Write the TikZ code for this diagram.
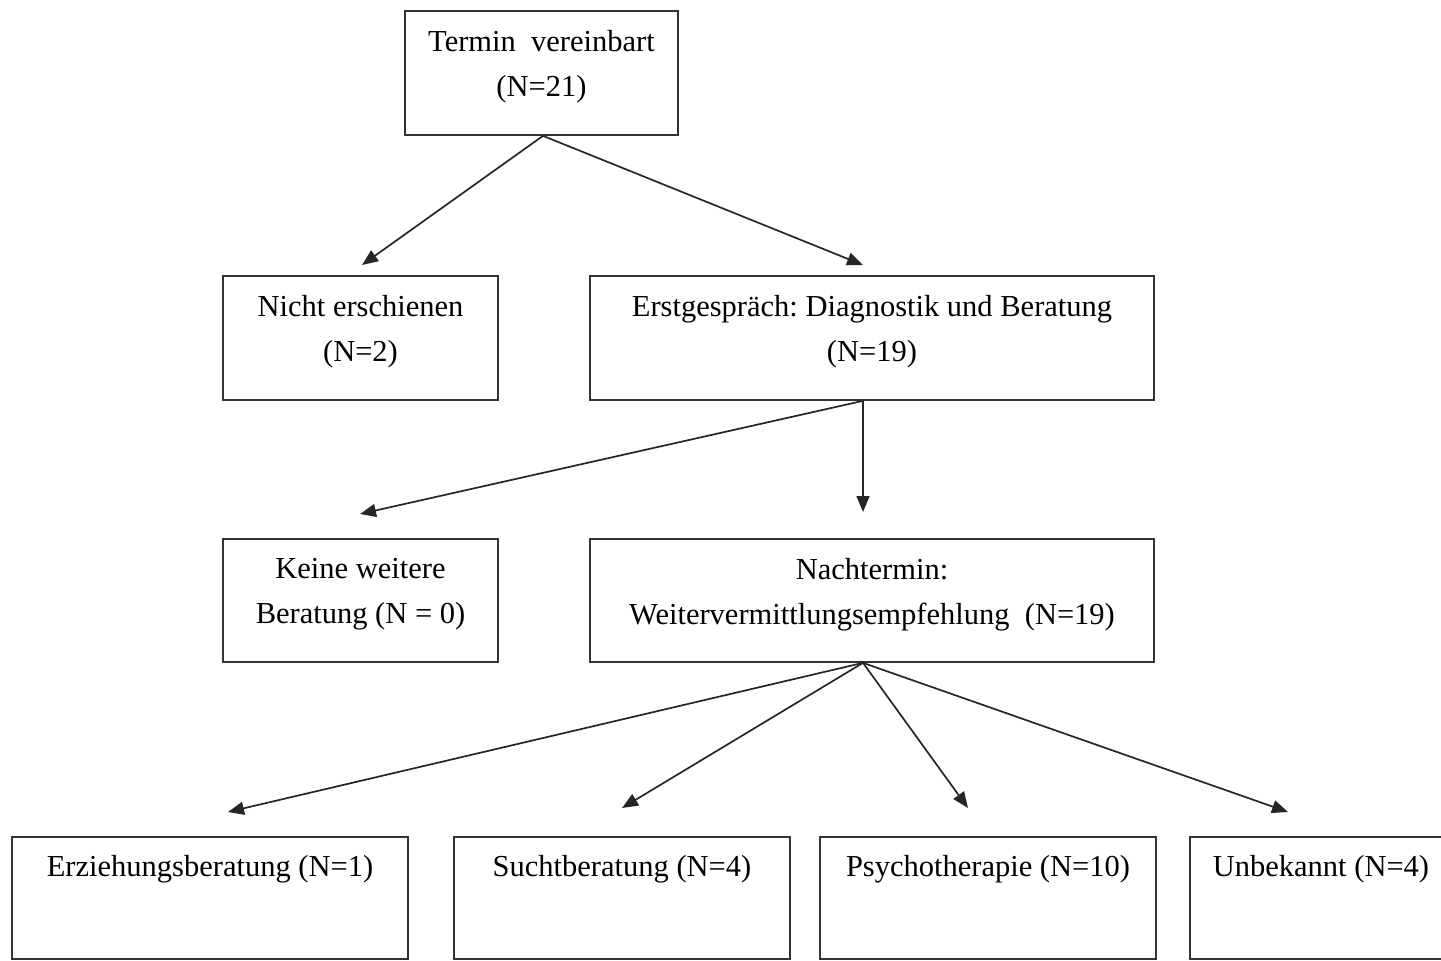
\documentclass[tikz,border=0pt]{standalone}
\usepackage{fontspec}
\setmainfont{Liberation Serif}
\usetikzlibrary{arrows.meta,positioning}
\frenchspacing
\begin{document}
\begin{tikzpicture}[x=1pt,y=-1pt,
  box/.style={draw=black!80, line width=1.7pt, inner sep=0pt, minimum height=124pt},
  boxtext/.style={align=center, inner sep=0pt, font=\fontsize{30.5}{45}\selectfont},
  flow/.style={-{Triangle[length=16pt,width=13pt]}, line width=1.7pt, black!85}]
  \useasboundingbox (0,0) rectangle (1441,961);

  % Boxes
  \node[box, minimum width=273pt] (termin) at (541.5,73) {};
  \node[box, minimum width=275pt] (nicht) at (360.5,338) {};
  \node[box, minimum width=564pt] (erst) at (872,338) {};
  \node[box, minimum width=275pt, minimum height=123pt] (keine) at (360.5,600.5) {};
  \node[box, minimum width=564pt, minimum height=123pt] (nach) at (872,600.5) {};
  \node[box, minimum width=396pt, minimum height=122pt] (erz) at (210,898) {};
  \node[box, minimum width=336pt, minimum height=122pt] (sucht) at (622,898) {};
  \node[box, minimum width=336pt, minimum height=122pt] (psych) at (988,898) {};
  \node[box, minimum width=280pt, minimum height=122pt] (unbek) at (1330,898) {};

  % Texts
  \node[boxtext, below=20pt of termin.north] {Termin\ \ vereinbart\\(N=21)};
  \node[boxtext, below=20pt of nicht.north] {Nicht erschienen\\(N=2)};
  \node[boxtext, below=20pt of erst.north] {Erstgespräch: Diagnostik und Beratung\\(N=19)};
  \node[boxtext, below=20pt of keine.north] {Keine weitere\\Beratung (N = 0)};
  \node[boxtext, below=20pt of nach.north] {Nachtermin:\\Weitervermittlungsempfehlung\ \ (N=19)};
  \node[boxtext, below=19pt of erz.north] {Erziehungsberatung (N=1)};
  \node[boxtext, below=19pt of sucht.north] {Suchtberatung (N=4)};
  \node[boxtext, below=19pt of psych.north] {Psychotherapie (N=10)};
  \node[boxtext, below=19pt of unbek.north, xshift=-9pt] {Unbekannt (N=4)};

  % Arrow tips
  \coordinate (toNicht) at (362,265);
  \coordinate (toErst) at (863,265);
  \coordinate (toKeine) at (360,514);
  \coordinate (toNach) at (863,512);
  \coordinate (toErz) at (228,812);
  \coordinate (toSucht) at (622,808);
  \coordinate (toPsych) at (968,808);
  \coordinate (toUnbek) at (1288,812);

  % Connectors
  \draw[flow] ([xshift=1.5pt]termin.south) -- (toNicht);
  \draw[flow] ([xshift=1.5pt]termin.south) -- (toErst);
  \draw[flow] (erst.south -| toNach) -- (toKeine);
  \draw[flow] (erst.south -| toNach) -- (toNach);
  \foreach \t in {toErz,toSucht,toPsych,toUnbek} {
    \draw[flow] (nach.south -| toNach) -- (\t);
  }
\end{tikzpicture}
\end{document}
